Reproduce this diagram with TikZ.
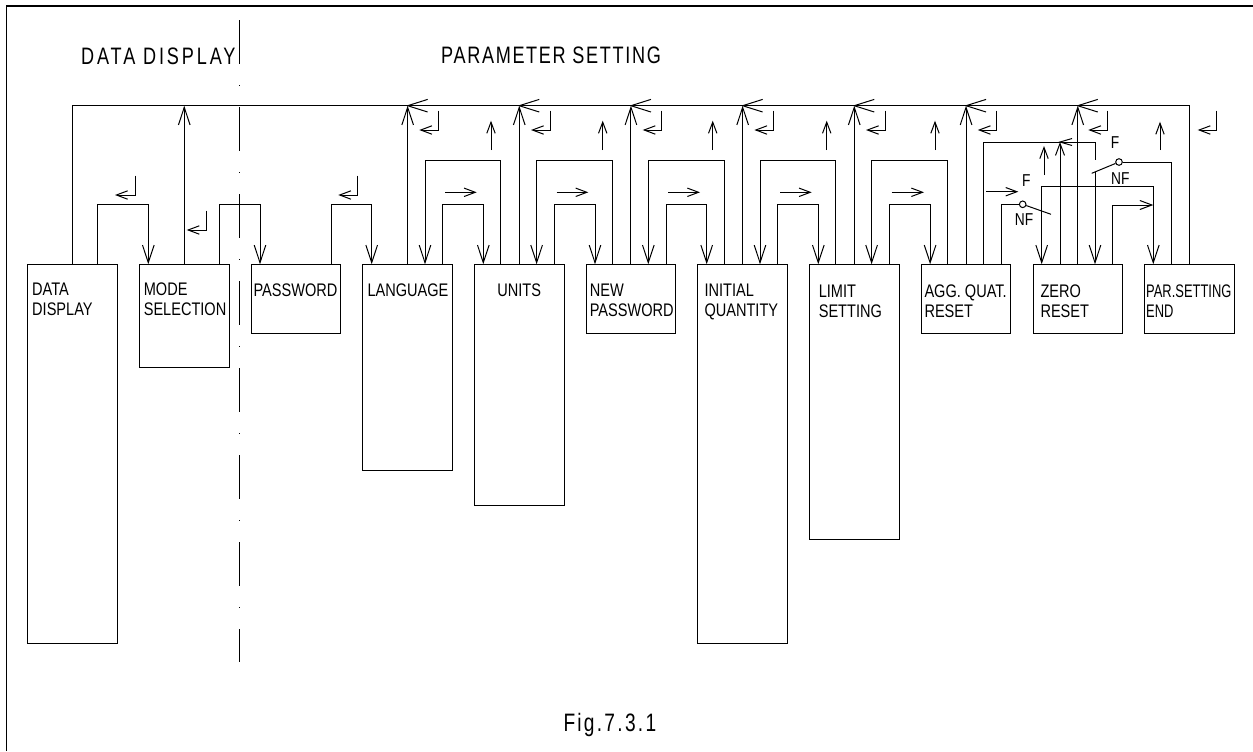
\documentclass[tikz,border=0pt]{standalone}
\usepackage{fontspec}
\setmainfont{Liberation Sans}[FakeStretch=0.8]
\newfontfamily\narrowfont{Liberation Sans}[FakeStretch=0.71]
\newfontfamily\titlefont{Liberation Sans}[FakeStretch=0.76,LetterSpace=7]
\newfontfamily\widetitlefont{Liberation Sans}[FakeStretch=0.76,LetterSpace=12]
\newfontfamily\figfont{Liberation Sans}[FakeStretch=0.76,LetterSpace=9]
\usetikzlibrary{arrows.meta,calc}

\begin{document}
\begin{tikzpicture}[x=0.5pt,y=-0.5pt,line width=0.5pt,
	blk/.style={draw,anchor=north west,minimum width=44.75pt,inner sep=0pt},
	boxtext/.style={anchor=north west,inner sep=0pt,align=left,font=\fontsize{9.1pt}{10pt}\selectfont},
	ttl/.style={anchor=base west,inner sep=0pt,font=\titlefont\fontsize{11.9pt}{14pt}\selectfont},
	swtext/.style={inner sep=0pt,font=\fontsize{8.6pt}{10pt}\selectfont},
	sw/.style={circle,draw,minimum size=3.3pt,inner sep=0pt},
	flow/.style={-{Straight Barb[length=8.8pt,width=5.8pt]}},
	smallflow/.style={-{Straight Barb[length=6pt,width=4.5pt]}},
	keymark/.style={-{Straight Barb[length=5.6pt,width=4.2pt]}},
	centreline/.style={dash pattern=on 22pt off 10.5pt on 0.5pt off 10.5pt,dash phase=36.5pt},
	frameline/.style={line width=0.9pt}]
		\useasboundingbox (0,0) rectangle (1253,751);
		\draw[frameline] (6.5,751) -- (6.5,5.7) -- (1253,5.7);
		\draw[centreline] (239.5,6) -- (239.5,662);
		
		\node[ttl,font=\widetitlefont\fontsize{11.9pt}{14pt}\selectfont] (ddtitle) at (80.7,64) {DATA DISPLAY};
		\node[ttl] (pstitle) at (440.7,63.3) {PARAMETER SETTING};
		\node[ttl,font=\figfont\fontsize{12.6pt}{14pt}\selectfont] (fig) at (563,731.7) {Fig.7.3.1};
		
		\node[blk,minimum height=189.35pt] (dd) at (27.3,264.3) {};
		\node[blk,minimum height=51.35pt] (ms) at (139,264.3) {};
		\node[blk,minimum height=34.35pt] (pw) at (250.7,264.3) {};
		\node[blk,minimum height=102.85pt] (lang) at (362.4,264.3) {};
		\node[blk,minimum height=120.35pt] (units) at (474,264.3) {};
		\node[blk,minimum height=34.35pt] (npw) at (585.7,264.3) {};
		\node[blk,minimum height=189.35pt] (iq) at (697.4,264.3) {};
		\node[blk,minimum height=137.35pt] (lim) at (809,264.3) {};
		\node[blk,minimum height=34.35pt] (agg) at (920.8,264.3) {};
		\node[blk,minimum height=34.35pt] (zero) at (1032.5,264.3) {};
		\node[blk,minimum height=34.35pt] (pse) at (1144.2,264.3) {};
		
		\node[boxtext] (ddtext) at ($(dd.north west)+(4.4,18)$) {DATA\\DISPLAY};
		\node[boxtext] (mstext) at ($(ms.north west)+(4.3,18.4)$) {MODE\\SELECTION};
		\node[boxtext] (pwtext) at ($(pw.north west)+(2.3,19)$) {PASSWORD};
		\node[boxtext] (langtext) at ($(lang.north west)+(4.6,19)$) {LANGUAGE};
		\node[boxtext,anchor=north] (unitstext) at ($(units.north)+(0,19)$) {UNITS};
		\node[boxtext] (npwtext) at ($(npw.north west)+(3.6,19)$) {NEW\\PASSWORD};
		\node[boxtext] (iqtext) at ($(iq.north west)+(6.6,19.5)$) {INITIAL\\QUANTITY};
		\node[boxtext] (limtext) at ($(lim.north west)+(9.3,19.7)$) {LIMIT\\SETTING};
		\node[boxtext] (aggtext) at ($(agg.north west)+(3.2,19.7)$) {AGG. QUAT.\\RESET};
		\node[boxtext] (zerotext) at ($(zero.north west)+(7.5,19.7)$) {ZERO\\RESET};
		\node[boxtext,font=\narrowfont\fontsize{9.1pt}{10pt}\selectfont] (psetext) at ($(pse.north west)+(1.5,19.7)$) {PAR.SETTING\\END};
		
		% return bus
		\coordinate (bus) at (0,105.7);
		\draw (dd.north) |- (pse.north |- bus) -- (pse.north);
		\draw[flow] (ms.north) -- (ms.north |- bus);
		\draw[flow] (lang.north) -- (lang.north |- bus);
		\draw[flow] (units.north) -- (units.north |- bus);
		\draw[flow] (npw.north) -- (npw.north |- bus);
		\draw[flow] (iq.north) -- (iq.north |- bus);
		\draw[flow] (lim.north) -- (lim.north |- bus);
		\draw[flow] (agg.north) -- (agg.north |- bus);
		\draw[flow] (zero.north) -- (zero.north |- bus);
		\draw ($(lang.north |- bus)+(20,-6.3)$) -- (lang.north |- bus) -- ++(20,6.3);
		\draw ($(units.north |- bus)+(20,-6.3)$) -- (units.north |- bus) -- ++(20,6.3);
		\draw ($(npw.north |- bus)+(20,-6.3)$) -- (npw.north |- bus) -- ++(20,6.3);
		\draw ($(iq.north |- bus)+(20,-6.3)$) -- (iq.north |- bus) -- ++(20,6.3);
		\draw ($(lim.north |- bus)+(20,-6.3)$) -- (lim.north |- bus) -- ++(20,6.3);
		\draw ($(agg.north |- bus)+(20,-6.3)$) -- (agg.north |- bus) -- ++(20,6.3);
		\draw ($(zero.north |- bus)+(20,-6.3)$) -- (zero.north |- bus) -- ++(20,6.3);
		
		% forward steps
		\draw[flow] ($(dd.north west)+(70.3,0)$) -- ++(0,-60) -| ($(ms.north west)+(9.3,0)$);
		\draw[flow] ($(ms.north west)+(80.3,0)$) -- ++(0,-60) -| ($(pw.north west)+(9.3,0)$);
		\draw[flow] ($(pw.north west)+(80.3,0)$) -- ++(0,-60) -| ($(lang.north west)+(9.3,0)$);
		\draw[flow] ($(lang.north west)+(80.3,0)$) -- ++(0,-59.6) -| ($(units.north west)+(9.3,0)$);
		\draw[flow] ($(units.north west)+(80.3,0)$) -- ++(0,-59.6) -| ($(npw.north west)+(9.3,0)$);
		\draw[flow] ($(npw.north west)+(80.3,0)$) -- ++(0,-59.6) -| ($(iq.north west)+(9.3,0)$);
		\draw[flow] ($(iq.north west)+(80.3,0)$) -- ++(0,-59.6) -| ($(lim.north west)+(9.3,0)$);
		\draw[flow] ($(lim.north west)+(80.3,0)$) -- ++(0,-59.6) -| ($(agg.north west)+(9.3,0)$);
		
		% backward steps
		\draw[flow] ($(units.north west)+(26.7,0)$) -- ++(0,-104.3) -| ($(lang.north west)+(62.6,0)$);
		\draw[flow] ($(npw.north west)+(26.7,0)$) -- ++(0,-104.3) -| ($(units.north west)+(62.6,0)$);
		\draw[flow] ($(iq.north west)+(26.7,0)$) -- ++(0,-104.3) -| ($(npw.north west)+(62.6,0)$);
		\draw[flow] ($(lim.north west)+(26.7,0)$) -- ++(0,-104.3) -| ($(iq.north west)+(62.6,0)$);
		\draw[flow] ($(agg.north west)+(26.7,0)$) -- ++(0,-104.3) -| ($(lim.north west)+(62.6,0)$);
		
		% F / NF switches
		\node[sw] (sw1) at (1022.7,204.3) {};
		\node[sw] (sw2) at (1119,162) {};
		\coordinate (sw1end) at (1051,214.3);
		\coordinate (sw2end) at (1091.7,173.3);
		\coordinate (f2) at (1095,160);
		\coordinate (nf2) at (1095,172);
		\draw (sw1) -- (sw1end);
		\draw (sw2) -- (sw2end);
		\draw ($(agg.north west)+(80.3,0)$) |- (sw1);
		\draw ($(pse.north west)+(27.5,0)$) |- (sw2);
		\draw[{Straight Barb[length=8.8pt,width=5.8pt]}-{Straight Barb[length=8.8pt,width=5.8pt]}] ($(zero.north west)+(9.2,0)$) -- ++(0,-77.6) -| ($(pse.north west)+(9.1,0)$);
		\draw[smallflow] ($(zero.north west)+(80.2,0)$) |- ($(pse.north west)+(9.1,-59.3)$);
		\draw ($(agg.north west)+(62.5,0)$) -- ++(0,-122.3) -| (f2);
		\draw[flow] (nf2) -- ($(zero.north west)+(62.5,0)$);
		\draw[smallflow] ($(zero.north west)+(27.5,0)$) -- ++(0,-122.3);
		\draw ($(zero.north west)+(39.5,-125.8)$) -- ++(-12,3.5) -- ++(12,3.5);
		\node[swtext] (f1label) at (1026.3,181) {F};
		\node[swtext] (nf1label) at (1024,219.7) {NF};
		\node[swtext] (f2label) at (1115,142.5) {F};
		\node[swtext] (nf2label) at (1120.3,178.3) {NF};
		
		% enter keys
		\draw[keymark] (135,175.7) -- (135,195) -- (115,195);
		\draw[keymark] (206,210.7) -- (206,230) -- (186.7,230);
		\draw[keymark] (357.7,175.7) -- (357.7,195) -- (338.3,195);
		\draw[keymark] (438.3,110.7) -- (438.3,130) -- (419.3,130);
		\draw[keymark] (550,110.7) -- (550,130) -- (531,130);
		\draw[keymark] (661.7,110.7) -- (661.7,130) -- (642.7,130);
		\draw[keymark] (773.4,110.7) -- (773.4,130) -- (754.4,130);
		\draw[keymark] (885,110.7) -- (885,130) -- (866,130);
		\draw[keymark] (996.8,110.7) -- (996.8,130) -- (977.8,130);
		\draw[keymark] (1107.3,110.7) -- (1107.3,130) -- (1088.3,130);
		\draw[keymark] (1216.7,110.7) -- (1216.7,130) -- (1197.7,130);
		
		% up keys
		\draw[keymark] (491,150) -- (491,120.7);
		\draw[keymark] (602.7,150) -- (602.7,120.7);
		\draw[keymark] (712.7,150) -- (712.7,120.7);
		\draw[keymark] (826.7,150) -- (826.7,120.7);
		\draw[keymark] (935,150) -- (935,120.7);
		\draw[keymark] (1044,175) -- (1044,146);
		\draw[keymark] (1160,150) -- (1160,121.7);
		
		% right keys
		\draw[keymark] (445,192.3) -- (476.7,192.3);
		\draw[keymark] (556.7,192.3) -- (588.3,192.3);
		\draw[keymark] (668.3,192.3) -- (700,192.3);
		\draw[keymark] (780,192.3) -- (811.7,192.3);
		\draw[keymark] (891.7,192.3) -- (924,192.3);
		\draw[keymark] (986,191.7) -- (1018.3,191.7);
	\end{tikzpicture}
\end{document}
